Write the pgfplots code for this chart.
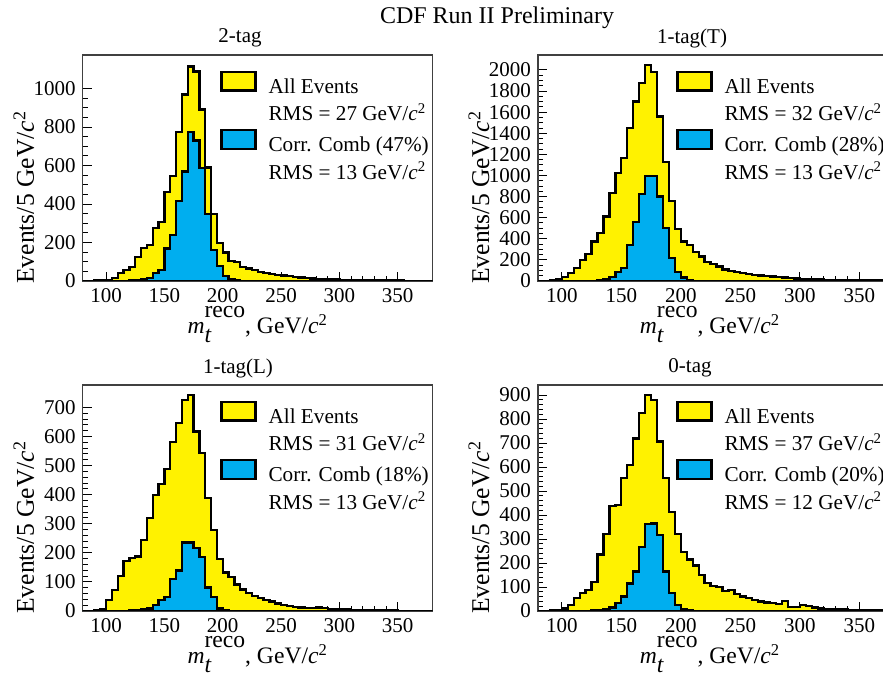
\documentclass[border=0pt]{standalone}
\usepackage{fontspec}
\setmainfont{Liberation Serif}
\usepackage{amsmath}
\usepackage{pgfplots}
\pgfplotsset{compat=1.18}

\definecolor{cdfyellow}{RGB}{255,242,0}
\definecolor{cdfblue}{RGB}{0,174,239}
\newcommand\fs{\fontsize{10.5}{12.6}\selectfont}
\newcommand\fl{\fontsize{10.6}{13}\selectfont}
\newcommand\fa{\fontsize{11.8}{14}\selectfont}
\newcommand\gevc{GeV/\textit{c}\textsuperscript{2}}
\newcommand\mreco{\textit{m}\rlap{\raisebox{-4.4pt}{\textit{t}}}\raisebox{8.2pt}{reco}}

\pgfplotsset{
  cdf/.style={
    scale only axis, height=113pt,
    xmin=80, xmax=380, ymin=0,
    xtick={100,150,...,350}, minor x tick num=4,
    tick align=inside, tick pos=left,
    major tick length=4.5pt, minor tick length=2.5pt,
    every tick/.style={black, line width=0.5pt},
    axis line style={black!75, line width=0.6pt},
    /pgf/number format/assume math mode=true,
    /pgf/number format/1000 sep={},
    ticklabel style={font=\fs},
    xlabel style={font=\fa},
    ylabel style={font=\fontsize{12.8}{15}\selectfont},
    xlabel={\mreco, \gevc},
    ylabel={Events/5 \gevc},
    legend style={draw=none, fill=none, anchor=north west, inner sep=0pt,
      font=\fl, row sep=1.4pt, column sep=6pt,
      nodes={inner sep=0pt, text height=10pt, text depth=2.5pt}},
    legend cell align=left,
  },
  left panel/.style={cdf, width=175pt,
    xlabel style={at={(axis description cs:0.5,-0.234)}, anchor=base},
    ylabel style={at={(axis description cs:-0.168,0.37)}, anchor=center},
    legend style={at={(axis description cs:0.392,0.933)}}},
  right panel/.style={cdf, width=178.5pt,
    xlabel style={at={(axis description cs:0.482,-0.234)}, anchor=base},
    ylabel style={at={(axis description cs:-0.165,0.37)}, anchor=center},
    legend style={at={(axis description cs:0.386,0.933)}}},
  hy/.style={const plot, fill=cdfyellow, draw=black, line width=1.15pt,
    legend image code/.code={\draw[fill=cdfyellow,draw=black,line width=1.15pt] (0pt,-2.4pt) rectangle (17pt,7pt);}},
  hb/.style={const plot, fill=cdfblue, draw=black, line width=1.15pt,
    legend image code/.code={\draw[fill=cdfblue,draw=black,line width=1.15pt] (0pt,-2.4pt) rectangle (17pt,7pt);}},
}

\begin{document}
\begin{tikzpicture}
\useasboundingbox (0,0) rectangle (441.5pt,336.5pt);
\clip (0,0) rectangle (441.5pt,336.5pt);

% 2-tag
\begin{axis}[left panel, at={(41.35pt,196pt)}, anchor=south west,
    ymax=1175, ytick={0,200,...,1000}, minor y tick num=3]
\addplot[hy] coordinates {(80,0)(85,0)(90,2)(95,3)(100,5)(105,15)(110,43)(115,57)(120,74)(125,126)(130,172)(135,186)(140,277)(145,306)(150,461)(155,547)(160,775)(165,969)(170,1115)(175,1089)(180,891)(185,590)(190,348)(195,198)(200,148)(205,105)(210,98)(215,74)(220,65)(225,57)(230,48)(235,40)(240,36)(245,31)(250,28)(255,25)(260,20)(265,18)(270,15)(275,13)(280,10)(285,9)(290,8)(295,7)(300,5)(305,5)(310,4)(315,4)(320,3)(325,3)(330,3)(335,2)(340,2)(345,2)(350,2)(355,1)(360,1)(365,1)(370,1)(375,1)(380,1)} \closedcycle;
\addlegendentry{All Events}
\addlegendimage{empty legend}\addlegendentry{RMS = 27 \gevc}
\addplot[hb] coordinates {(80,0)(115,0)(120,2)(125,5)(130,8)(135,15)(140,43)(145,57)(150,169)(155,238)(160,415)(165,570)(170,775)(175,731)(180,587)(185,349)(190,160)(195,77)(200,26)(205,9)(210,3)(215,1)(220,0)(380,0)} \closedcycle;
\addlegendentry{Corr. Comb (47\%)}
\addlegendimage{empty legend}\addlegendentry{RMS = 13 \gevc}
\end{axis}

% 1-tag(T)
\begin{axis}[right panel, at={(269pt,196pt)}, anchor=south west,
    ymax=2142, ytick={0,200,...,2000}, minor y tick num=3]
\addplot[hy] coordinates {(80,0)(85,3)(90,8)(95,15)(100,41)(105,79)(110,120)(115,199)(120,253)(125,373)(130,458)(135,610)(140,831)(145,1021)(150,1163)(155,1447)(160,1700)(165,1874)(170,2047)(175,1984)(180,1560)(185,1130)(190,760)(195,490)(200,373)(205,341)(210,278)(215,231)(220,183)(225,161)(230,136)(235,110)(240,95)(245,82)(250,73)(255,63)(260,56)(265,52)(270,46)(275,42)(280,36)(285,33)(290,27)(295,24)(300,20)(305,18)(310,16)(315,14)(320,12)(325,12)(330,10)(335,10)(340,8)(345,8)(350,6)(355,6)(360,5)(365,5)(370,5)(375,5)(380,5)} \closedcycle;
\addlegendentry{All Events}
\addlegendimage{empty legend}\addlegendentry{RMS = 32 \gevc}
\addplot[hb] coordinates {(80,0)(120,0)(125,3)(130,8)(135,15)(140,35)(145,88)(150,120)(155,341)(160,562)(165,825)(170,995)(175,995)(180,800)(185,499)(190,215)(195,88)(200,32)(205,10)(210,3)(215,0)(380,0)} \closedcycle;
\addlegendentry{Corr. Comb (28\%)}
\addlegendimage{empty legend}\addlegendentry{RMS = 13 \gevc}
\end{axis}

% 1-tag(L)
\begin{axis}[left panel, at={(41.35pt,31pt)}, anchor=south west,
    ymax=777, ytick={0,100,...,700}, minor y tick num=4]
\addplot[hy] coordinates {(80,0)(85,0)(90,2)(95,6)(100,38)(105,72)(110,120)(115,172)(120,183)(125,187)(130,244)(135,319)(140,399)(145,437)(150,489)(155,580)(160,646)(165,726)(170,743)(175,617)(180,542)(185,388)(190,279)(195,178)(200,132)(205,118)(210,91)(215,74)(220,61)(225,52)(230,44)(235,37)(240,33)(245,26)(250,21)(255,17)(260,14)(265,12)(270,10)(275,10)(280,12)(285,11)(290,8)(295,7)(300,5)(305,5)(310,4)(315,4)(320,3)(325,3)(330,3)(335,2)(340,2)(345,2)(350,1)(355,1)(360,1)(365,1)(370,1)(375,1)(380,1)} \closedcycle;
\addlegendentry{All Events}
\addlegendimage{empty legend}\addlegendentry{RMS = 31 \gevc}
\addplot[hb] coordinates {(80,0)(115,1)(120,3)(125,4)(130,5)(135,9)(140,21)(145,38)(150,49)(155,109)(160,139)(165,235)(170,235)(175,216)(180,185)(185,81)(190,49)(195,9)(200,3)(205,1)(210,0)(380,0)} \closedcycle;
\addlegendentry{Corr. Comb (18\%)}
\addlegendimage{empty legend}\addlegendentry{RMS = 13 \gevc}
\end{axis}

% 0-tag
\begin{axis}[right panel, at={(269pt,31pt)}, anchor=south west,
    ymax=942, ytick={0,100,...,900}, minor y tick num=4]
\addplot[hy] coordinates {(80,0)(85,0)(90,2)(95,4)(100,11)(105,25)(110,53)(115,74)(120,88)(125,122)(130,236)(135,321)(140,437)(145,442)(150,553)(155,608)(160,719)(165,826)(170,900)(175,879)(180,706)(185,553)(190,414)(195,320)(200,247)(205,215)(210,190)(215,150)(220,118)(225,105)(230,100)(235,82)(240,88)(245,72)(250,60)(255,53)(260,46)(265,39)(270,35)(275,32)(280,29)(285,43)(290,18)(295,18)(300,25)(305,21)(310,15)(315,11)(320,8)(325,7)(330,6)(335,6)(340,5)(345,4)(350,4)(355,3)(360,3)(365,3)(370,2)(375,2)(380,2)} \closedcycle;
\addlegendentry{All Events}
\addlegendimage{empty legend}\addlegendentry{RMS = 37 \gevc}
\addplot[hb] coordinates {(80,0)(120,0)(125,2)(130,4)(135,7)(140,14)(145,32)(150,60)(155,115)(160,164)(165,268)(170,362)(175,365)(180,317)(185,164)(190,74)(195,25)(200,7)(205,2)(210,0)(380,0)} \closedcycle;
\addlegendentry{Corr. Comb (20\%)}
\addlegendimage{empty legend}\addlegendentry{RMS = 12 \gevc}
\end{axis}

\node[font=\fontsize{12}{14}\selectfont] at (248.5pt,327.5pt) {CDF Run II Preliminary};
\node[font=\fs] at (120pt,317.5pt) {2-tag};
\node[font=\fs] at (346pt,317.5pt) {1-tag(T)};
\node[font=\fs] at (119pt,152.5pt) {1-tag(L)};
\node[font=\fs] at (345pt,152.5pt) {0-tag};
\end{tikzpicture}
\end{document}
